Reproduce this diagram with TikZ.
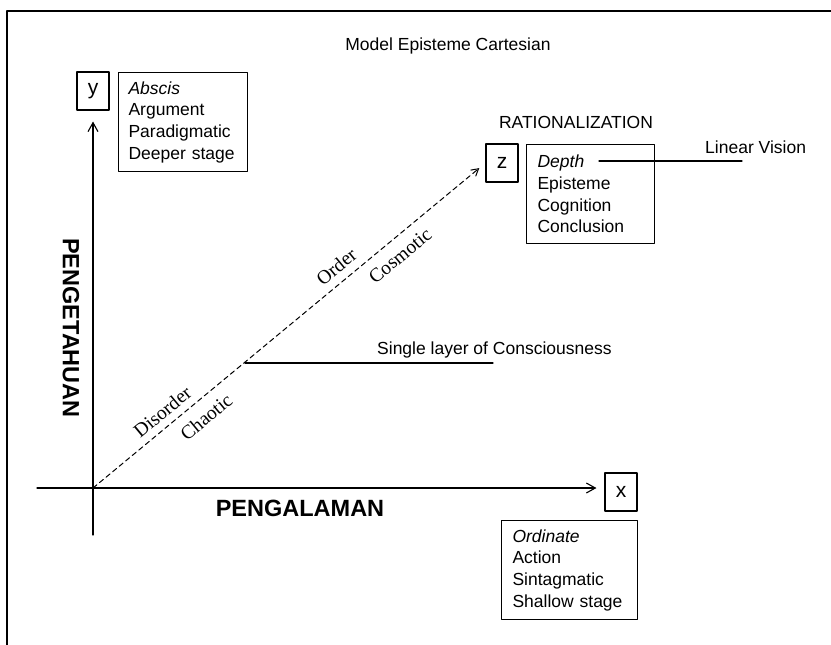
\documentclass[tikz,border=0pt]{standalone}
\usepackage{fontspec}
\setmainfont{Liberation Sans}
\newfontfamily\timesfont{Liberation Serif}
\usetikzlibrary{arrows.meta}

\begin{document}
\begin{tikzpicture}[x=1pt, y=-1pt, line cap=round, line join=round,
  axis/.style={line width=1.1pt, -{Straight Barb[length=9pt,width=10pt,line width=1.1pt]}},
  letterbox/.style={draw, line width=1.1pt, font=\fontsize{21}{21}\selectfont,
    minimum width=32pt, minimum height=38pt, inner sep=0pt},
  infobox/.style={draw, line width=1.1pt, anchor=north west, align=left,
    font=\fontsize{17.5}{21.7}\selectfont, minimum height=99pt, inner ysep=0pt},
  plain/.style={font=\fontsize{17.5}{21}\selectfont, inner sep=0pt},
  bigcap/.style={font=\fontsize{23.5}{23.5}\selectfont\bfseries, inner sep=0pt},
  slopelabel/.style={font=\timesfont\fontsize{19.5}{19.5}\selectfont, sloped, inner sep=7pt}]

% --- Parameters (pixel grid, y grows downwards) ---
\def\ox{93}     % x of origin
\def\oy{488}    % y of origin

\useasboundingbox (0,0) rectangle (831,645);

% --- Frame (only top and left edges show) ---
\draw[line width=1.3pt] (7,645) -- (7,11) -- (831,11);

% --- Title ---
\node[plain] (title) at (448,46) {Model Episteme Cartesian};

% --- Axis letters ---
\node[letterbox] (ylab) at (\ox,91)  {y};
\node[letterbox] (zlab) at (502,163) {z};
\node[letterbox] (xlab) at (621,492) {x};

% --- Boxes with the four terms ---
\node[infobox, text width=109pt, inner xsep=10pt] (ybox) at (118,72)
  {\textit{Abscis}\\Argument\\Paradigmatic\\Deeper stage};
\node[infobox, text width=106pt, inner xsep=11pt] (zbox) at (526,144)
  {\textit{Depth}\\Episteme\\Cognition\\Conclusion};
\node[infobox, text width=114pt, inner xsep=11pt] (xbox) at (501,520)
  {\textit{Ordinate}\\Action\\Sintagmatic\\Shallow stage};

% --- Axes ---
\coordinate (O)    at (\ox,\oy);
\coordinate (ybot) at (\ox,535);
\coordinate (xbeg) at (37,\oy);
\draw[axis, shorten >=11pt] (ybot) -- (ybot |- ylab.south);
\draw[axis, shorten >=8pt]  (xbeg) -- (xbeg -| xlab.west);

% --- Diagonal (depth) axis with its labels ---
\draw[line width=1pt, dash pattern=on 5pt off 3.5pt, shorten >=8pt,
      -{Straight Barb[length=7pt,width=8pt,line width=1pt]}]
  (O) -- (zlab.west)
  node[slopelabel, pos=0.20, above] (disorder) {Disorder}
  node[slopelabel, pos=0.26, below, inner sep=10pt] (chaotic)  {Chaotic}
  node[slopelabel, pos=0.645, above, inner sep=8pt] (order)    {Order}
  node[slopelabel, pos=0.755, below, inner sep=10pt] (cosmotic) {Cosmotic};

% --- Side labels ---
\node[plain] (ratio) at (576,122) {RATIONALIZATION};
\node[plain, anchor=west] (linvis) at (705,147) {Linear Vision};
\coordinate (lvA) at (599,161);
\coordinate (lvB) at (742,161);
\draw[line width=1.1pt] (lvA) -- (lvB);

\node[plain, anchor=west] (single) at (377,350) {Single layer of Consciousness};
\coordinate (slA) at (245,363);
\coordinate (slB) at (493,363);
\draw[line width=1.1pt] (slA) -- (slB);

% --- Axis names ---
\node[bigcap] (pengalaman)  at (300,508) {PENGALAMAN};
\node[bigcap, rotate=-90] (pengetahuan) at (71,328) {PENGETAHUAN};

\end{tikzpicture}
\end{document}
